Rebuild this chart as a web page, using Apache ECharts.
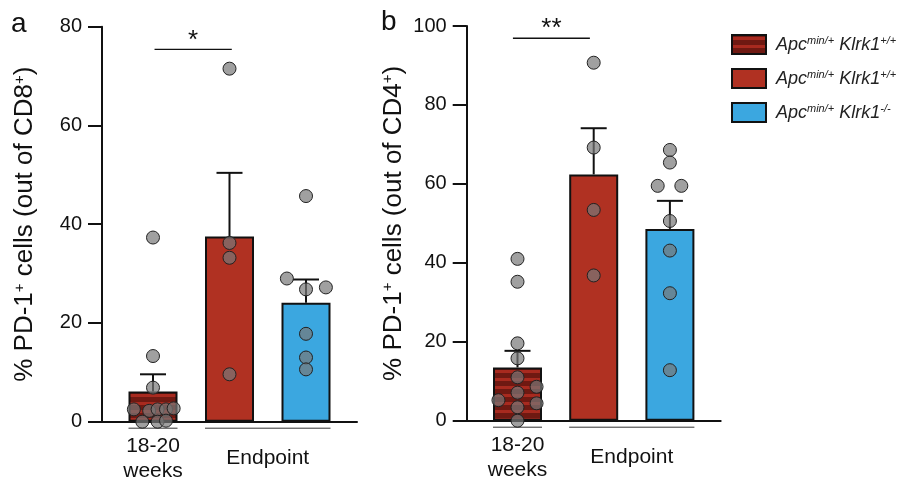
<!DOCTYPE html>
<html>
<head>
<meta charset="utf-8">
<script src="https://cdn.jsdelivr.net/npm/echarts@6/dist/echarts.min.js"></script>
<style>
  html, body { margin: 0; padding: 0; background: #fff; }
  #chart { width: 899px; height: 484px; }
</style>
</head>
<body>
<div id="chart"></div>
<script>
// groups: 18-20 weeks (+/+), endpoint (+/+), endpoint (-/-)
const groupNames = ['wk', 'endWT', 'endKO'];
const legendLabels = {
  wk: '{i|Apc}{s|min/+}{i| Klrk1}{s|+/+}',
  endWT: '{i|Apc}{s|min/+}{i| Klrk1}{s|+/+}',
  endKO: '{i|Apc}{s|min/+}{i| Klrk1}{s|-/-}'
};
const groupLabels = ['18-20\nweeks', 'Endpoint'];
const groupSpans = [[0, 0], [1, 2]];

// panel a: % PD-1+ out of CD8+
const cd8Ticks = [0, 80, 20];
const cd8Mean = [6.1, 37.5, 24.1];
const cd8Sem = [3.5, 12.9, 4.7];
const cd8Dots = [
  [37.3, 13.3, 6.9, 2.5, 2.2, 2.5, 2.5, 2.7, 0, 0, 0.2],
  [71.5, 36.2, 33.2, 9.6],
  [45.7, 29.0, 26.8, 27.2, 17.8, 13.0, 10.6]
];
const cd8Jitter = [
  [0, 0, 0, -0.25, -0.05, 0.06, 0.17, 0.27, -0.14, 0.06, 0.17],
  [0, 0, 0, 0],
  [0, -0.25, 0, 0.26, 0, 0, 0]
];
const cd8Sig = [0.02, 1.03, 75.4];
const cd8Stars = '*';

// panel b: % PD-1+ out of CD4+
const cd4Ticks = [0, 100, 20];
const cd4Mean = [13.5, 62.4, 48.6];
const cd4Sem = [4.2, 11.7, 7.1];
const cd4Dots = [
  [41.0, 35.2, 19.6, 15.8, 11.0, 8.6, 7.1, 5.2, 4.4, 3.4, 0],
  [90.7, 69.2, 53.4, 36.8],
  [68.6, 65.4, 59.5, 59.5, 50.6, 43.1, 32.3, 12.8]
];
const cd4Jitter = [
  [0, 0, 0, 0, 0, 0.25, 0, -0.25, 0.25, 0, 0],
  [0, 0, 0, 0],
  [0, 0, -0.16, 0.15, 0, 0, 0, 0]
];
const cd4Sig = [-0.06, 0.95, 96.9];
const cd4Stars = '**';

const FONT = '"Liberation Sans", Arial, sans-serif';
const INK = '#111';
const BAR_W = 49;

// striped fill for the 18-20 weeks bar
function stripes() {
  const c = document.createElement('canvas');
  c.width = 8; c.height = 8;
  const ctx = c.getContext('2d');
  ctx.fillStyle = '#6f1912';
  ctx.fillRect(0, 0, 8, 8);
  ctx.fillStyle = '#a82a1f';
  ctx.fillRect(0, 2, 8, 3);
  return { image: c, repeat: 'repeat' };
}
const fills = [stripes(), '#b03122', '#3ba7e0'];

function errItem(params, api) {
  const b = api.coord([api.value(0), api.value(1)]);
  const t = api.coord([api.value(0), api.value(2)]);
  const st = { stroke: INK, lineWidth: 2 };
  return {
    type: 'group', children: [
      { type: 'line', shape: { x1: b[0], y1: b[1], x2: t[0], y2: t[1] }, style: st },
      { type: 'line', shape: { x1: t[0] - 13, y1: t[1], x2: t[0] + 13, y2: t[1] }, style: st }
    ]
  };
}

function groupItem(params, api) {
  const l = api.coord([api.value(0), 0]);
  const r = api.coord([api.value(1), 0]);
  const x1 = l[0] - BAR_W / 2, x2 = r[0] + BAR_W / 2, y = l[1];
  return {
    type: 'group', children: [
      { type: 'line', shape: { x1: x1, y1: y + 6.5, x2: x2, y2: y + 6.5 }, style: { stroke: '#333', lineWidth: 1 } },
      { type: 'text', x: (x1 + x2) / 2, y: y + 37, style: {
        text: groupLabels[params.dataIndex], fill: INK, font: '21px ' + FONT,
        align: 'center', verticalAlign: 'middle', lineHeight: 25 } }
    ]
  };
}

function sigRenderer(stars) {
  return function (params, api) {
    const a = api.coord([api.value(0), api.value(2)]);
    const b = api.coord([api.value(1), api.value(2)]);
    return {
      type: 'group', children: [
        { type: 'line', shape: { x1: a[0], y1: a[1], x2: b[0], y2: b[1] }, style: { stroke: INK, lineWidth: 1.3 } },
        { type: 'text', x: (a[0] + b[0]) / 2, y: a[1] + 4, style: {
          text: stars, fill: INK, font: '26px ' + FONT, align: 'center', verticalAlign: 'bottom' } }
      ]
    };
  };
}

function panelSeries(p, mean, sem, dots, jitter, sig, stars) {
  const out = [];
  groupNames.forEach(function (name, g) {
    out.push({
      type: 'bar', name: name, xAxisIndex: p, yAxisIndex: p,
      barWidth: BAR_W, barGap: '-100%',
      itemStyle: { color: fills[g], borderColor: INK, borderWidth: 2 },
      data: [[g, mean[g]]], z: 2
    });
  });
  out.push({
    type: 'custom', xAxisIndex: p, yAxisIndex: p, renderItem: errItem, z: 3,
    data: mean.map(function (m, g) { return [g, m, m + sem[g]]; })
  });
  const pts = [];
  dots.forEach(function (arr, g) {
    arr.forEach(function (v, i) { pts.push([g + jitter[g][i], v]); });
  });
  out.push({
    type: 'scatter', xAxisIndex: p, yAxisIndex: p, data: pts, z: 4,
    symbolSize: 13,
    itemStyle: { color: 'rgba(120,120,120,0.7)', borderColor: '#222', borderWidth: 1, opacity: 1 }
  });
  out.push({
    type: 'custom', xAxisIndex: p, yAxisIndex: p, renderItem: groupItem, clip: false, z: 3,
    data: groupSpans
  });
  out.push({
    type: 'custom', xAxisIndex: p, yAxisIndex: p, renderItem: sigRenderer(stars), clip: false, z: 3,
    data: [sig]
  });
  return out;
}

function yAxis(p, ticks, title) {
  return {
    type: 'value', gridIndex: p, min: ticks[0], max: ticks[1], interval: ticks[2],
    axisLine: { show: true, onZero: false, lineStyle: { color: INK, width: 2 } },
    axisTick: { show: true, length: 14, lineStyle: { color: INK, width: 2 } },
    axisLabel: { fontSize: 20, margin: 20, color: INK, fontFamily: FONT },
    splitLine: { show: false },
    name: title, nameLocation: 'middle', nameRotate: 90, nameGap: p === 0 ? 64 : 60,
    nameTextStyle: {
      fontSize: 26, color: INK, fontFamily: FONT,
      rich: { s: { fontSize: 15, verticalAlign: 'top', color: INK, fontFamily: FONT } }
    }
  };
}

function xAxis(p) {
  return {
    type: 'value', gridIndex: p, min: -2 / 3, max: 8 / 3,
    axisLine: { show: true, onZero: false, lineStyle: { color: INK, width: 2 } },
    axisTick: { show: false }, axisLabel: { show: false }, splitLine: { show: false }
  };
}

const chart = echarts.init(document.getElementById('chart'));
chart.setOption({
  animation: false,
  backgroundColor: '#fff',
  title: [
    { text: 'a', left: 6, top: 5, textStyle: { fontSize: 28, fontWeight: 'normal', color: INK, fontFamily: FONT } },
    { text: 'b', left: 376, top: 3, textStyle: { fontSize: 28, fontWeight: 'normal', color: INK, fontFamily: FONT } }
  ],
  legend: {
    orient: 'vertical', left: 726, top: 29, itemWidth: 34, itemHeight: 19, itemGap: 13,
    icon: 'rect', data: groupNames,
    formatter: function (n) { return legendLabels[n]; },
    textStyle: {
      color: INK, fontFamily: FONT,
      rich: {
        i: { fontSize: 18, fontStyle: 'italic', color: '#222', fontFamily: FONT },
        s: { fontSize: 11, fontStyle: 'italic', color: '#222', fontFamily: FONT, verticalAlign: 'top' }
      },
      padding: [0, 0, 0, 5]
    },
    selectedMode: false
  },
  grid: [
    { left: 102, top: 26.7, width: 255, height: 395 },
    { left: 466.7, top: 26, width: 254, height: 394.7 }
  ],
  xAxis: [xAxis(0), xAxis(1)],
  yAxis: [
    yAxis(0, cd8Ticks, '% PD-1{s|+} cells (out of CD8{s|+})'),
    yAxis(1, cd4Ticks, '% PD-1{s|+} cells (out of CD4{s|+})')
  ],
  series: panelSeries(0, cd8Mean, cd8Sem, cd8Dots, cd8Jitter, cd8Sig, cd8Stars)
    .concat(panelSeries(1, cd4Mean, cd4Sem, cd4Dots, cd4Jitter, cd4Sig, cd4Stars))
});
</script>
</body>
</html>
